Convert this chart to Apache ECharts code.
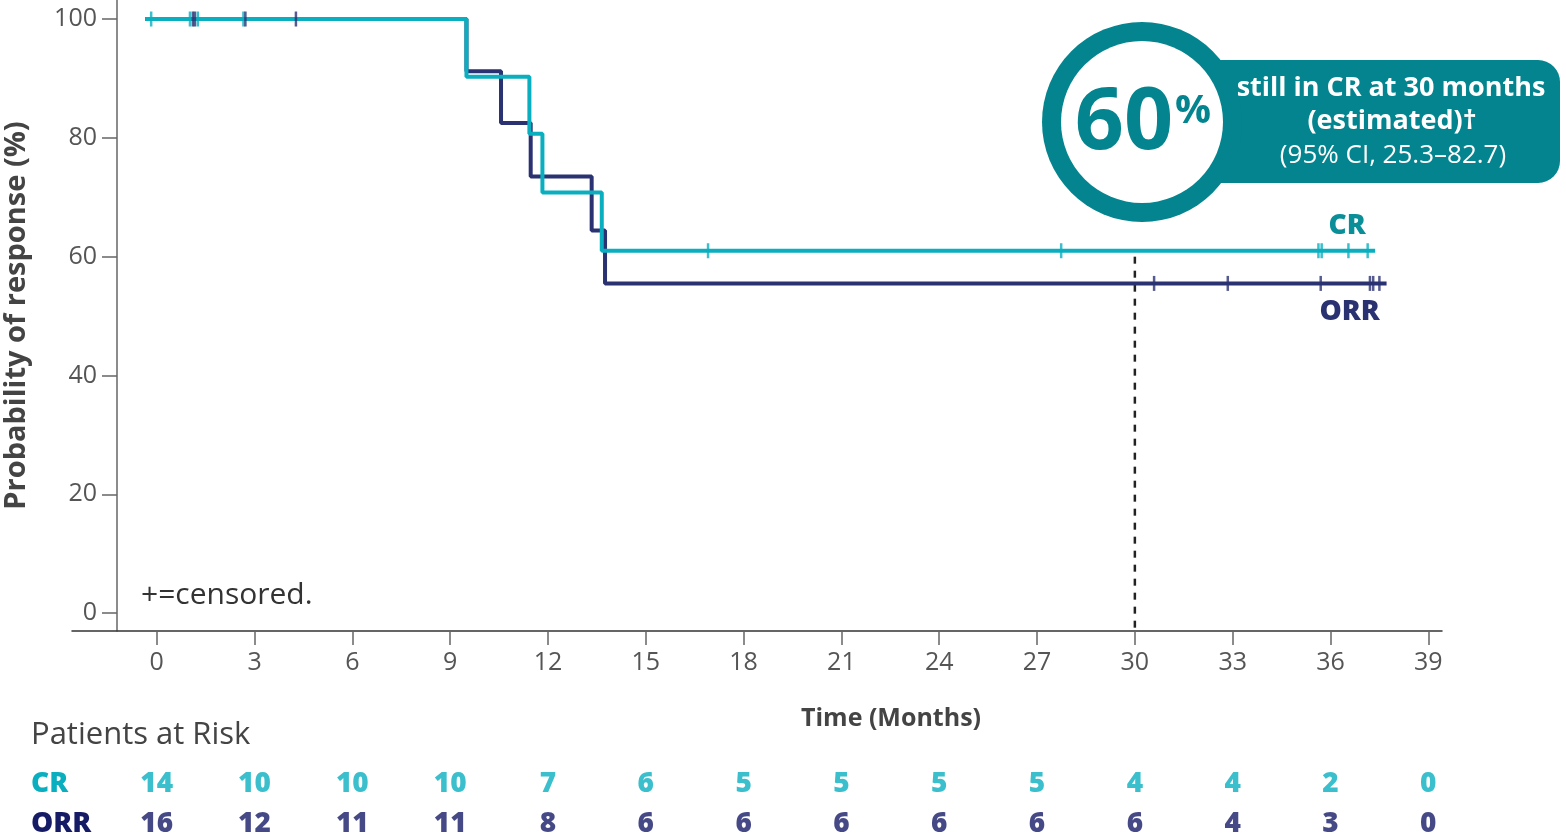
<!DOCTYPE html>
<html>
<head>
<meta charset="utf-8">
<script src="https://cdn.jsdelivr.net/npm/echarts@6/dist/echarts.min.js"></script>
<style>
html,body{margin:0;padding:0;background:#fff;}
#chart{width:1566px;height:834px;}
</style>
</head>
<body>
<div id="chart"></div>
<script>
// ---- data ----
const xTicks = [0, 3, 6, 9, 12, 15, 18, 21, 24, 27, 30, 33, 36, 39];
const yTicks = [0, 20, 40, 60, 80, 100];

// Kaplan–Meier steps: [month, probability %]
const crSteps = [[-0.35, 100], [9.5, 90.3], [11.43, 80.7], [11.83, 70.8], [13.65, 61.0], [37.37, 61.0]];
const orrSteps = [[-0.35, 100], [9.5, 91.2], [10.56, 82.5], [11.47, 73.5], [13.34, 64.4], [13.75, 55.5], [37.72, 55.5]];

// censored observations: [month, probability %]
const crCensored = [[-0.17, 100], [1.02, 100], [1.26, 100], [2.66, 100], [16.91, 61.0], [27.74, 61.0], [35.63, 61.0], [35.73, 61.0], [36.55, 61.0], [37.14, 61.0]];
const orrCensored = [[1.11, 100], [1.17, 100], [2.72, 100], [4.27, 100], [30.59, 55.5], [32.85, 55.5], [35.70, 55.5], [37.21, 55.5], [37.31, 55.5], [37.50, 55.5]];

// reference line at 30 months
const refLine = [[30, 60.0], [30, -3]];

// patients at risk
const riskTimes = [0, 3, 6, 9, 12, 15, 18, 21, 24, 27, 30, 33, 36, 39];
const crAtRisk = [14, 10, 10, 10, 7, 6, 5, 5, 5, 5, 4, 4, 2, 0];
const orrAtRisk = [16, 12, 11, 11, 8, 6, 6, 6, 6, 6, 6, 4, 3, 0];

// ---- styling ----
const FONT = "'Open Sans', 'Noto Sans', sans-serif";
const CR_COLOR = '#0AAFBF';
const ORR_COLOR = '#2B3272';
const ORR_TEXT = '#161B66';
const BADGE = '#03848E';

const chart = echarts.init(document.getElementById('chart'));

const riskData = [];
riskTimes.forEach((t, i) => {
  riskData.push({ value: [t, 'CR', crAtRisk[i]], label: { color: CR_COLOR } });
  riskData.push({ value: [t, 'ORR', orrAtRisk[i]], label: { color: ORR_TEXT } });
});

const censorStyle = (c) => ({
  type: 'scatter', xAxisIndex: 0, yAxisIndex: 0,
  symbol: 'rect', symbolSize: [2.5, 15],
  itemStyle: { color: c }, z: 5, silent: true
});

chart.setOption({
  animation: false,
  backgroundColor: '#fff',
  textStyle: { fontFamily: FONT },
  title: {
    text: 'Patients at Risk', left: 31, top: 720, padding: 0,
    textStyle: { fontFamily: FONT, fontSize: 31, fontWeight: 'normal', color: '#444' }
  },
  grid: [
    { left: 72, right: 124, top: 0, height: 631, outerBoundsMode: 'none', containLabel: false },
    { left: 72, right: 124, top: 764, height: 80, outerBoundsMode: 'none', containLabel: false }
  ],
  xAxis: [
    {
      gridIndex: 0, type: 'value', min: -2.598, max: 39.42,
      name: 'Time (Months)', nameLocation: 'middle', nameGap: 75,
      nameTextStyle: { fontFamily: FONT, fontSize: 25, fontWeight: 'bold', color: '#444', padding: [0, 0, 0, 268] },
      axisLine: { show: true, onZero: false, lineStyle: { color: '#333', width: 1.5 } },
      axisTick: { show: true, length: 14, customValues: xTicks, lineStyle: { color: '#666', width: 1.5 } },
      axisLabel: { customValues: xTicks, fontSize: 25, color: '#555', margin: 19, fontFamily: FONT },
      splitLine: { show: false }
    },
    {
      gridIndex: 1, type: 'value', min: -2.598, max: 39.42, show: false
    }
  ],
  yAxis: [
    {
      gridIndex: 0, type: 'value', min: -3, max: 103.2, offset: -45,
      name: 'Probability of response (%)', nameLocation: 'middle', nameGap: 86, nameRotate: 90,
      nameTextStyle: { fontFamily: FONT, fontSize: 29, fontWeight: 'bold', color: '#444' },
      axisLine: { show: true, onZero: false, lineStyle: { color: '#666', width: 1.5 } },
      axisTick: { show: true, length: 15, customValues: yTicks, lineStyle: { color: '#666', width: 1.5 } },
      axisLabel: { customValues: yTicks, fontSize: 25, color: '#555', margin: 20, fontFamily: FONT },
      splitLine: { show: false }
    },
    {
      gridIndex: 1, type: 'category', data: ['ORR', 'CR'], inverse: false,
      axisLine: { show: false }, axisTick: { show: false },
      axisLabel: {
        align: 'left', margin: 41,
        formatter: (v) => '{' + v + '|' + v + '}',
        rich: {
          CR: { color: CR_COLOR, fontSize: 28, fontWeight: 800, fontFamily: FONT },
          ORR: { color: ORR_TEXT, fontSize: 28, fontWeight: 800, fontFamily: FONT }
        }
      }
    }
  ],
  series: [
    {
      name: 'ORR', type: 'line', step: 'end', xAxisIndex: 0, yAxisIndex: 0,
      data: orrSteps, showSymbol: false, symbol: 'none',
      lineStyle: { color: ORR_COLOR, width: 4 }, z: 2,
      endLabel: {
        show: true, formatter: 'ORR', distance: 0, offset: [-37, 29],
        align: 'center', verticalAlign: 'middle',
        color: ORR_COLOR, fontSize: 28, fontWeight: 800, fontFamily: FONT
      }
    },
    {
      name: 'CR', type: 'line', step: 'end', xAxisIndex: 0, yAxisIndex: 0,
      data: crSteps, showSymbol: false, symbol: 'none',
      lineStyle: { color: CR_COLOR, width: 4 }, z: 3,
      endLabel: {
        show: true, formatter: 'CR', distance: 0, offset: [-28, -25],
        align: 'center', verticalAlign: 'middle',
        color: '#0A8E98', fontSize: 28, fontWeight: 800, fontFamily: FONT
      }
    },
    Object.assign(censorStyle(CR_COLOR), { name: 'CR censored', data: crCensored }),
    Object.assign(censorStyle(ORR_COLOR), { name: 'ORR censored', data: orrCensored }),
    {
      name: '30 months', type: 'line', xAxisIndex: 0, yAxisIndex: 0,
      data: refLine, symbol: 'none', silent: true, z: 1,
      lineStyle: { color: '#222', width: 2.5, type: [7, 7] }
    },
    {
      name: 'At risk', type: 'scatter', xAxisIndex: 1, yAxisIndex: 1,
      data: riskData, symbolSize: 0.0001, itemStyle: { color: 'transparent' }, silent: true,
      label: {
        show: true, position: 'inside', formatter: (p) => String(p.value[2]),
        fontSize: 28, fontWeight: 800, fontFamily: FONT
      }
    }
  ],
  graphic: [
    {
      type: 'text', x: 141, y: 595,
      style: { text: '+=censored.', font: "normal 30px 'Open Sans', sans-serif", fill: '#333', verticalAlign: 'middle' }
    },
    {
      type: 'rect', shape: { x: 1200, y: 60, width: 360, height: 123, r: [0, 22, 22, 0] },
      style: { fill: BADGE }, z: 10
    },
    {
      type: 'circle', shape: { cx: 1142, cy: 122, r: 100 }, style: { fill: BADGE }, z: 11
    },
    {
      type: 'circle', shape: { cx: 1142, cy: 122, r: 81 }, style: { fill: '#fff' }, z: 12
    },
    {
      type: 'text', x: 1124, y: 124, z: 13,
      style: { text: '60', font: "bold 86px 'Open Sans', sans-serif", fill: BADGE, align: 'center', verticalAlign: 'middle' }
    },
    {
      type: 'text', x: 1193, y: 112, z: 13,
      style: { text: '%', font: "bold 40px 'Open Sans', sans-serif", fill: BADGE, align: 'center', verticalAlign: 'middle' }
    },
    {
      type: 'text', x: 1391, y: 88, z: 13,
      style: { text: 'still in CR at 30 months', font: "bold 27px 'Open Sans', sans-serif", fill: '#fff', align: 'center', verticalAlign: 'middle' }
    },
    {
      type: 'text', x: 1392, y: 121, z: 13,
      style: { text: '(estimated)\u2020', font: "bold 27px 'Open Sans', sans-serif", fill: '#fff', align: 'center', verticalAlign: 'middle' }
    },
    {
      type: 'text', x: 1393, y: 156, z: 13,
      style: { text: '(95% CI, 25.3\u201382.7)', font: "normal 26px 'Open Sans', sans-serif", fill: '#fff', align: 'center', verticalAlign: 'middle' }
    }
  ]
});
</script>
</body>
</html>
